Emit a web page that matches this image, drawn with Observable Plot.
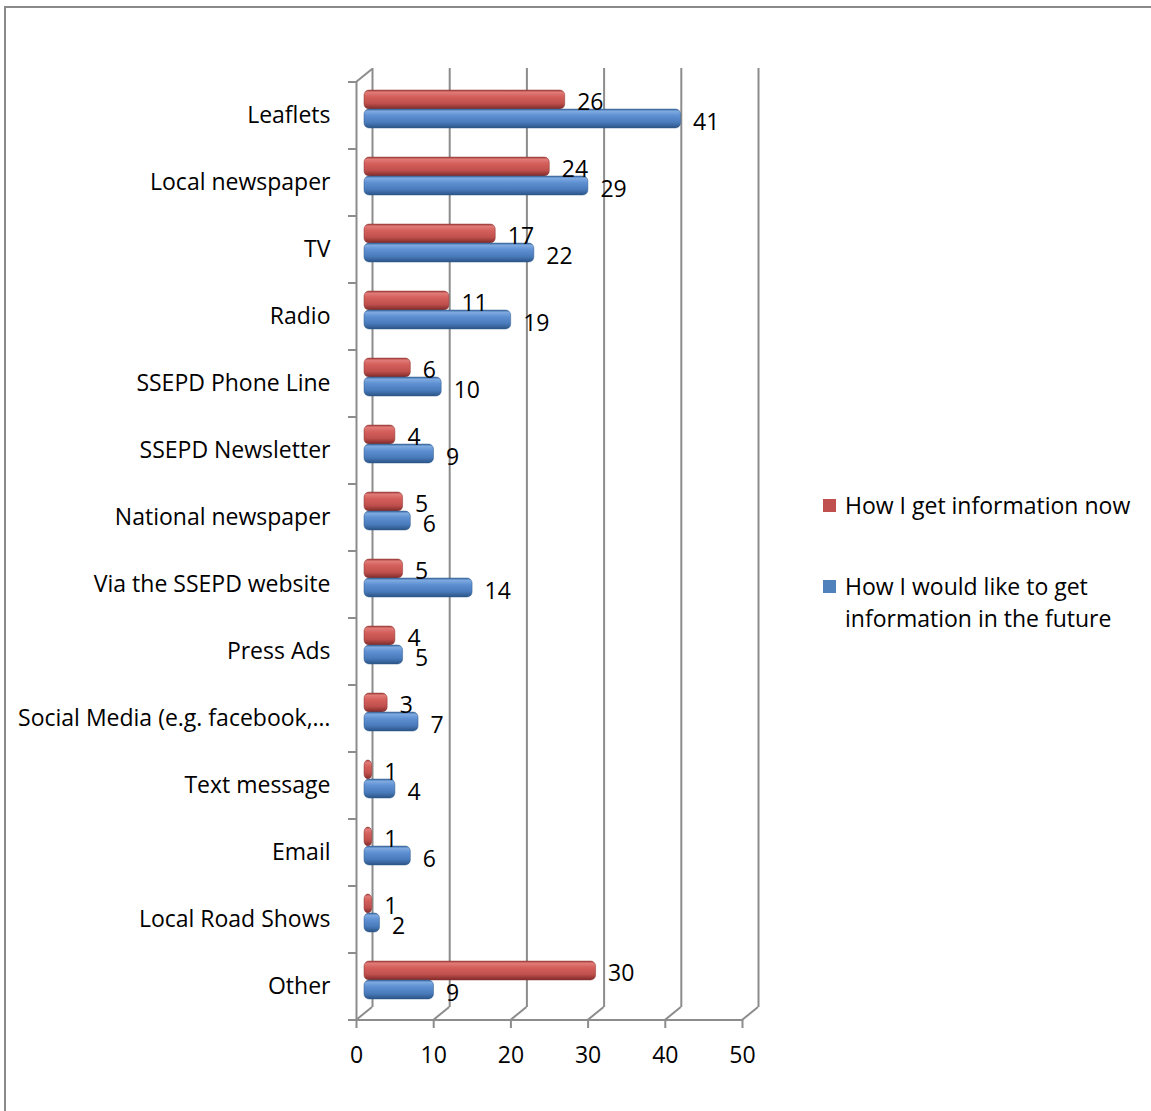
<!DOCTYPE html>
<html><head><meta charset="utf-8">
<script src="https://cdn.jsdelivr.net/npm/d3@7"></script>
<script src="https://cdn.jsdelivr.net/npm/@observablehq/plot@0.6"></script>
<style>
body{margin:0;background:#fff;}
#wrap{position:relative;width:1151px;height:1111px;overflow:hidden;background:#fff;}
#border{position:absolute;left:4px;top:6px;width:1200px;height:1200px;border-left:2px solid #8a8a8a;border-top:2px solid #8a8a8a;}
#chart{position:absolute;left:0;top:0;}
.item{position:absolute;left:823px;display:flex;align-items:flex-start;font:23px "Open Sans", sans-serif;line-height:32px;color:#000;white-space:nowrap;}
.sw{width:13px;height:13px;margin-top:10px;margin-right:9px;flex:none;}
</style></head>
<body>
<div id="wrap">
  <div id="border"></div>
  <div id="chart"></div>
  <div id="legend"></div>
</div>
<script>
const categories = ["Leaflets","Local newspaper","TV","Radio","SSEPD Phone Line","SSEPD Newsletter","National newspaper","Via the SSEPD website","Press Ads","Social Media (e.g. facebook,…","Text message","Email","Local Road Shows","Other"];
const nowValues = [26,24,17,11,6,4,5,5,4,3,1,1,1,30];
const futureValues = [41,29,22,19,10,9,6,14,5,7,4,6,2,9];
const xTicks = [0,10,20,30,40,50];
const seriesNames = ["How I get information now","How I would like to get<br>information in the future"];
const seriesColors = ["#c0504d","#4f81bd"];

const now = categories.map((c,i)=>({category:c, value:nowValues[i]}));
const future = categories.map((c,i)=>({category:c, value:futureValues[i]}));

const gridColor = "#8c8c8c";
const depthX = 16, depthY = -13;
const bandStep = (1020-81)/categories.length;
const barH = 19;
const inset = (bandStep - barH)/2;
const fs = 23;

function frame3d(index, scales, values, dimensions) {
  const {x, y} = scales;
  const bottom = dimensions.height - dimensions.marginBottom;
  const g = d3.create("svg:g").attr("stroke", gridColor).attr("stroke-width", 2).attr("fill","none");
  const starts = categories.map(c => y(c));
  const step = starts[1]-starts[0];
  const bounds = [...starts, starts[starts.length-1]+step];
  for (const b of bounds) g.append("line").attr("x1", x(0)-8).attr("x2", x(0)).attr("y1", b).attr("y2", b);
  g.append("line").attr("x1", x(0)).attr("y1", bounds[0]).attr("x2", x(0)+depthX).attr("y2", bounds[0]+depthY);
  for (const t of xTicks) g.append("line").attr("x1", x(t)).attr("y1", bottom).attr("x2", x(t)+depthX).attr("y2", bottom+depthY);
  g.append("line").attr("x1", x(0)-8).attr("x2", x(xTicks[xTicks.length-1])).attr("y1", bottom).attr("y2", bottom);
  return g.node();
}

const plot = Plot.plot({
  width: 1151, height: 1111,
  marginLeft: 356, marginRight: 409, marginTop: 81, marginBottom: 91,
  style: {fontFamily: "'Open Sans', sans-serif", background: "transparent", color: "#000"},
  x: {domain: [0, 50]},
  y: {domain: categories, range: [81, 1020], padding: 0},
  marks: [
    Plot.ruleX(xTicks, {x: d => d, dx: depthX, dy: depthY, stroke: gridColor, strokeWidth: 2}),
    Plot.ruleX([0], {stroke: gridColor, strokeWidth: 2}),
    frame3d,
    Plot.barX(now, {x: "value", y: "category", fill: "url(#gRed)", dx: 8, dy: -6.5 - barH/2, insetTop: inset, insetBottom: inset, rx: 5, stroke: "#8e3431", strokeWidth: 0.5}),
    Plot.barX(future, {x: "value", y: "category", fill: "url(#gBlue)", dx: 8, dy: -6.5 + barH/2, insetTop: inset, insetBottom: inset, rx: 5, stroke: "#2f5a8c", strokeWidth: 0.5}),
    Plot.text(now, {x: "value", y: "category", text: d => String(d.value), textAnchor: "start", dx: 20, dy: -13.5, fontSize: fs}),
    Plot.text(future, {x: "value", y: "category", text: d => String(d.value), textAnchor: "start", dx: 20, dy: 7, fontSize: fs}),
    Plot.axisY({tickSize: 0, tickPadding: 26, fontSize: fs, label: null}),
    Plot.axisX({ticks: xTicks, tickSize: 8, tickPadding: 18, fontSize: fs, stroke: gridColor, strokeWidth: 2, label: null})
  ]
});

const svg = d3.select(plot);
const defs = svg.insert("defs", ":first-child");
function grad(id, stops) {
  const lg = defs.append("linearGradient").attr("id", id).attr("x1", 0).attr("y1", 0).attr("x2", 0).attr("y2", 1);
  for (const [o, c] of stops) lg.append("stop").attr("offset", o).attr("stop-color", c);
}
grad("gRed", [[0,"#a33f3c"],[0.12,"#e07b78"],[0.35,"#d45f5b"],[0.7,"#c0504d"],[1,"#7f2b29"]]);
grad("gBlue", [[0,"#3b6aa3"],[0.12,"#7eaae0"],[0.35,"#5e90d2"],[0.7,"#4a7cbc"],[1,"#2b5486"]]);

document.getElementById("chart").appendChild(plot);

const legend = document.getElementById("legend");
const tops = [489, 570];
seriesNames.forEach((n, i) => {
  const it = document.createElement("div");
  it.className = "item";
  it.style.top = tops[i] + "px";
  it.innerHTML = `<span class="sw" style="background:${seriesColors[i]}"></span><span>${n}</span>`;
  legend.appendChild(it);
});
</script>
</body></html>
